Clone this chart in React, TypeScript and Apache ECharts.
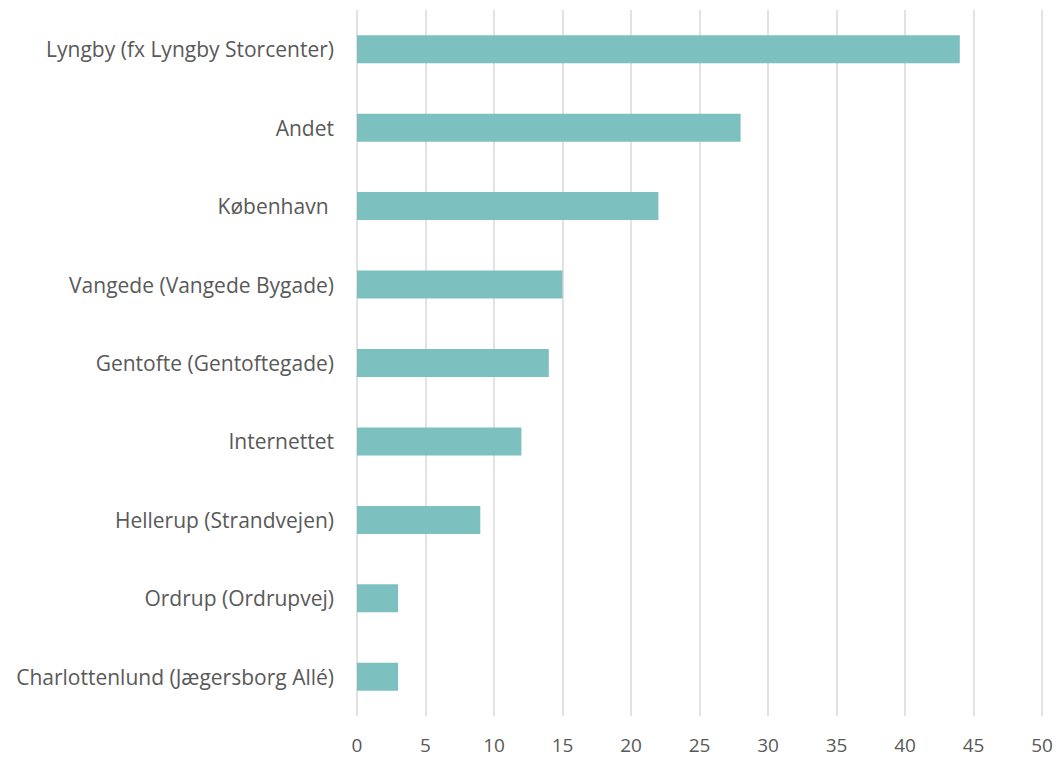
import React, { useEffect, useRef } from "react";
import * as echarts from "echarts";

const categories = [
  "Lyngby (fx Lyngby Storcenter)",
  "Andet",
  "København ",
  "Vangede (Vangede Bygade)",
  "Gentofte (Gentoftegade)",
  "Internettet",
  "Hellerup (Strandvejen)",
  "Ordrup (Ordrupvej)",
  "Charlottenlund (Jægersborg Allé)",
];
const values = [44, 28, 22, 15, 14, 12, 9, 3, 3];

export default function App() {
  const ref = useRef<HTMLDivElement>(null);
  useEffect(() => {
    if (!ref.current) return;
    document.body.style.margin = "0";
    document.body.style.overflow = "hidden";
    const chart = echarts.init(ref.current, null, { renderer: "svg" });
    chart.setOption({
      animation: false,
      grid: { left: 357, right: 14, top: 10, bottom: 43, containLabel: false },
      xAxis: {
        type: "value",
        min: 0,
        max: 50,
        interval: 5,
        axisLine: { show: false },
        axisTick: { show: false },
        axisLabel: {
          color: "#595959",
          fontFamily: "Open Sans",
          fontSize: 19,
          margin: 19,
        },
        splitLine: { show: true, lineStyle: { color: "#d9d9d9", width: 1.5 } },
      },
      yAxis: {
        type: "category",
        inverse: true,
        data: categories,
        axisLine: { show: false },
        axisTick: { show: false },
        axisLabel: {
          color: "#595959",
          fontFamily: "Open Sans",
          fontSize: 21,
          margin: 23,
        },
      },
      series: [
        {
          type: "bar",
          data: values,
          barWidth: 28,
          itemStyle: { color: "#7dc0c0" },
        },
      ],
    });
    return () => chart.dispose();
  }, []);
  return <div ref={ref} style={{ width: 1056, height: 759 }} />;
}
